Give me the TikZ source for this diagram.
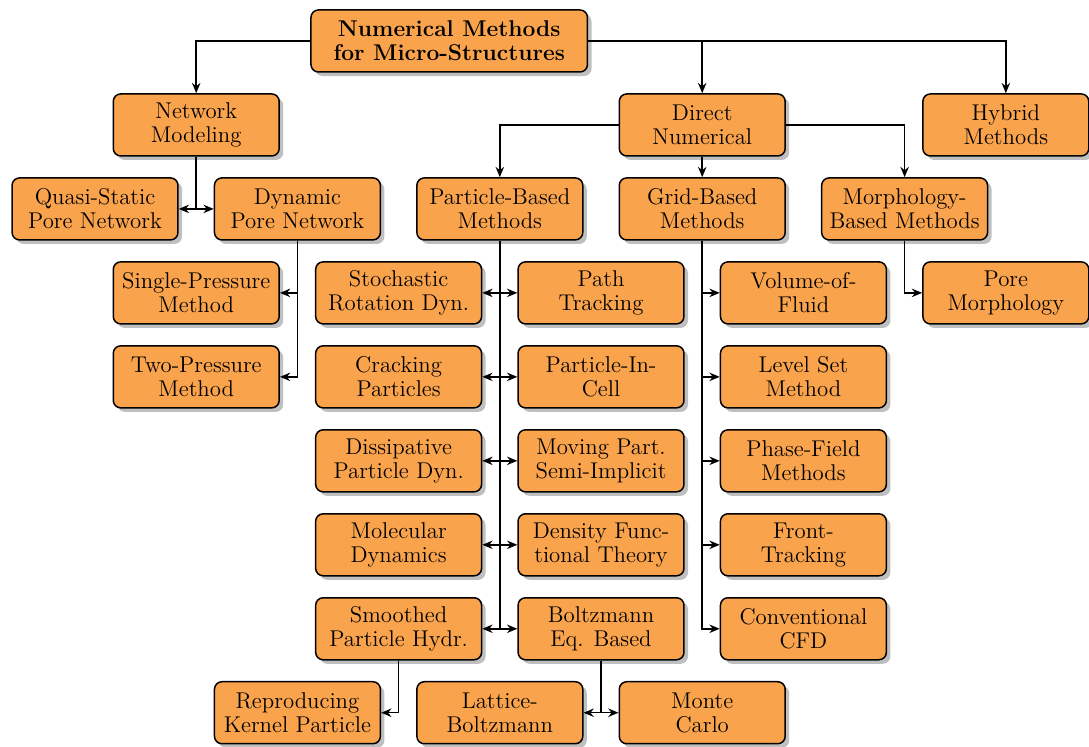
\documentclass[tikz,border=0pt]{standalone}
\usepackage{amsmath}
\usepackage{tikz}
\usetikzlibrary{calc,shadows,arrows.meta}

\definecolor{boxorange}{RGB}{250,163,77}
\tikzset{
    method/.style={rectangle,rounded corners,draw,thick,fill=boxorange,drop shadow,
        minimum width=3.12cm,minimum height=1.166cm,align=center,inner sep=2pt,
        font=\fontsize{12.2}{12.8}\selectfont},
    link/.style={thick,-{Stealth[length=5.5pt,width=4.5pt]}},
    twolink/.style={thick,{Stealth[length=5.5pt,width=4.5pt]}-{Stealth[length=5.5pt,width=4.5pt]}}
}

\begin{document}
\begin{tikzpicture}[x=1.903cm,y=-1.579cm]
    \useasboundingbox (-0.939,-0.488) rectangle (9.822,8.405);

    % Root
    \node[method,font=\fontsize{12.2}{12.8}\selectfont\bfseries,minimum width=5.2cm] (numerical) at (3.5,0) {Numerical Methods\\for Micro-Structures};

    % First level
    \node[method] (network) at (1,1) {Network\\Modeling};
    \node[method] (direct) at (6,1) {Direct\\Numerical};
    \node[method] (hybrid) at (9,1) {Hybrid\\Methods};

    % Second level
    \node[method] (quasistatic) at (0,2) {Quasi-Static\\Pore Network};
    \node[method] (dynamic) at (2,2) {Dynamic\\Pore Network};
    \node[method] (particle) at (4,2) {Particle-Based\\Methods};
    \node[method] (grid) at (6,2) {Grid-Based\\Methods};
    \node[method] (morphology) at (8,2) {Morphology-\\Based Methods};

    % Pore network methods
    \node[method] (singlep) at (1,3) {Single-Pressure\\Method};
    \node[method] (twop) at (1,4) {Two-Pressure\\Method};

    % Particle-based methods
    \node[method] (srd) at (3,3) {Stochastic\\Rotation Dyn.};
    \node[method] (pathtrack) at (5,3) {Path\\Tracking};
    \node[method] (cracking) at (3,4) {Cracking\\Particles};
    \node[method] (pic) at (5,4) {Particle-In-\\Cell};
    \node[method] (dpd) at (3,5) {Dissipative\\Particle Dyn.};
    \node[method] (mps) at (5,5) {Moving Part.\\Semi-Implicit};
    \node[method] (md) at (3,6) {Molecular\\Dynamics};
    \node[method] (dft) at (5,6) {Density Func-\\tional Theory};
    \node[method] (sph) at (3,7) {Smoothed\\Particle Hydr.};
    \node[method] (boltzmann) at (5,7) {Boltzmann\\Eq. Based};

    % Grid-based methods
    \node[method] (vof) at (7,3) {Volume-of-\\Fluid};
    \node[method] (levelset) at (7,4) {Level Set\\Method};
    \node[method] (phasefield) at (7,5) {Phase-Field\\Methods};
    \node[method] (fronttrack) at (7,6) {Front-\\Tracking};
    \node[method] (cfd) at (7,7) {Conventional\\CFD};

    % Morphology-based methods
    \node[method] (poremorph) at (9,3) {Pore\\Morphology};

    % Bottom level
    \node[method] (rkp) at (2,8) {Reproducing\\Kernel Particle};
    \node[method] (lbm) at (4,8) {Lattice-\\Boltzmann};
    \node[method] (montecarlo) at (6,8) {Monte\\Carlo};

    % Root branches
    \draw[link] (numerical.west) -| (network.north);
    \draw[link] (numerical.east) -| (hybrid.north);
    \draw[link] (numerical.east -| direct.north) -- (direct.north);

    % Network modeling
    \draw[thick] (network.south) -- (network.south |- quasistatic.east);
    \draw[twolink] (quasistatic.east) -- (dynamic.west);
    \draw[link] (dynamic.south) |- (singlep.east);
    \draw[link] (dynamic.south) |- (twop.east);

    % Direct numerical
    \draw[link] (direct.west) -| (particle.north);
    \draw[link] (direct.south) -- (grid.north);
    \draw[link] (direct.east) -| (morphology.north);

    % Particle-based
    \draw[thick] (particle.south) -- (particle.south |- sph.east);
    \draw[twolink] (srd.east) -- (pathtrack.west);
    \draw[twolink] (cracking.east) -- (pic.west);
    \draw[twolink] (dpd.east) -- (mps.west);
    \draw[twolink] (md.east) -- (dft.west);
    \draw[twolink] (sph.east) -- (boltzmann.west);

    % Grid-based
    \draw[link] (grid.south) |- (vof.west);
    \draw[link] (grid.south) |- (levelset.west);
    \draw[link] (grid.south) |- (phasefield.west);
    \draw[link] (grid.south) |- (fronttrack.west);
    \draw[link] (grid.south) |- (cfd.west);

    % Morphology-based
    \draw[link] (morphology.south) |- (poremorph.west);

    % Bottom level
    \draw[link] (sph.south) |- (rkp.east);
    \draw[thick] (boltzmann.south) -- (boltzmann.south |- lbm.east);
    \draw[twolink] (lbm.east) -- (montecarlo.west);
\end{tikzpicture}
\end{document}
